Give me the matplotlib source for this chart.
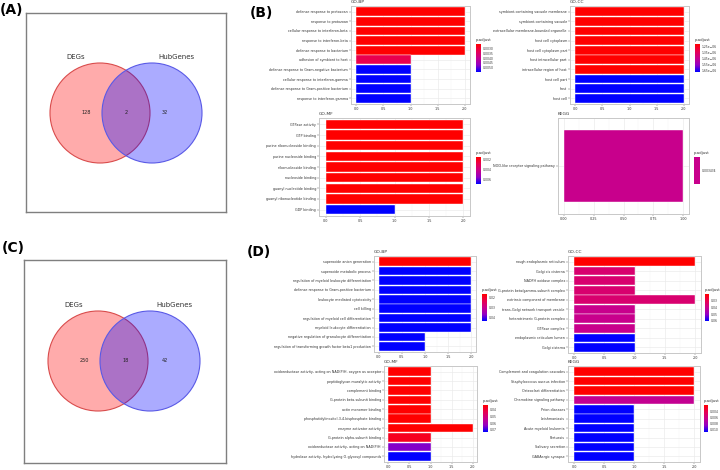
import numpy as np
import matplotlib.pyplot as plt
from matplotlib.colors import LinearSegmentedColormap, ListedColormap, Normalize
from matplotlib.cm import ScalarMappable
from matplotlib.patches import Circle

W, H = 720, 470

# ---- Venn data ----
venn_sets = ["DEGs", "HubGenes"]
venn_a_counts = [128, 2, 32]
venn_c_counts = [250, 18, 42]

# ---- (B) enrichment data ----
b_bp_terms = ["defense response to protozoan", "response to protozoan",
              "cellular response to interferon-beta", "response to interferon-beta",
              "defense response to bacterium", "adhesion of symbiont to host",
              "defense response to Gram-negative bacterium",
              "cellular response to interferon-gamma",
              "defense response to Gram-positive bacterium",
              "response to interferon-gamma"]
b_bp_count = [2, 2, 2, 2, 2, 1, 1, 1, 1, 1]
b_bp_padj = [0.0025, 0.0025, 0.0025, 0.0025, 0.0025, 0.00325,
             0.0055, 0.0055, 0.0055, 0.0055]
b_bp_cticks = [0.003, 0.0035, 0.004, 0.0045, 0.005]

b_cc_terms = ["symbiont-containing vacuole membrane", "symbiont-containing vacuole",
              "extracellular membrane-bounded organelle", "host cell cytoplasm",
              "host cell cytoplasm part", "host intracellular part",
              "intracellular region of host", "host cell part", "host", "host cell"]
b_cc_count = [2, 2, 2, 2, 2, 2, 2, 2, 2, 2]
b_cc_padj = [1.21e-06, 1.21e-06, 1.21e-06, 1.21e-06, 1.21e-06, 1.21e-06,
             1.21e-06, 1.67e-06, 1.67e-06, 1.67e-06]
b_cc_cticks = [1.25e-06, 1.35e-06, 1.45e-06, 1.55e-06, 1.65e-06]

b_mf_terms = ["GTPase activity", "GTP binding", "purine ribonucleoside binding",
              "purine nucleoside binding", "ribonucleoside binding",
              "nucleoside binding", "guanyl nucleotide binding",
              "guanyl ribonucleotide binding", "GDP binding"]
b_mf_count = [2, 2, 2, 2, 2, 2, 2, 2, 1]
b_mf_padj = [0.0015, 0.0015, 0.0015, 0.0015, 0.0015, 0.0015, 0.0015, 0.0015, 0.0068]
b_mf_cticks = [0.002, 0.004, 0.006]

b_kegg_terms = ["NOD-like receptor signaling pathway"]
b_kegg_count = [1]
b_kegg_padj = [0.003434]
b_kegg_cticks = [0.003434]

# ---- (D) enrichment data ----
d_bp_terms = ["superoxide anion generation", "superoxide metabolic process",
              "regulation of myeloid leukocyte differentiation",
              "defense response to Gram-positive bacterium",
              "leukocyte mediated cytotoxicity", "cell killing",
              "regulation of myeloid cell differentiation",
              "myeloid leukocyte differentiation",
              "negative regulation of granulocyte differentiation",
              "regulation of transforming growth factor beta1 production"]
d_bp_count = [2, 2, 2, 2, 2, 2, 2, 2, 1, 1]
d_bp_padj = [0.016, 0.044, 0.044, 0.044, 0.044, 0.044, 0.044, 0.044, 0.044, 0.044]
d_bp_cticks = [0.02, 0.03, 0.04]

d_cc_terms = ["rough endoplasmic reticulum", "Golgi cis cisterna",
              "NADPH oxidase complex", "G-protein beta/gamma-subunit complex",
              "extrinsic component of membrane",
              "trans-Golgi network transport vesicle",
              "heterotrimeric G-protein complex", "GTPase complex",
              "endoplasmic reticulum lumen", "Golgi cisterna"]
d_cc_count = [2, 1, 1, 1, 2, 1, 1, 1, 1, 1]
d_cc_padj = [0.020, 0.035, 0.035, 0.035, 0.035, 0.040, 0.040, 0.040, 0.060, 0.060]
d_cc_cticks = [0.03, 0.04, 0.05, 0.06]

d_mf_terms = ["oxidoreductase activity, acting on NAD(P)H, oxygen as acceptor",
              "peptidoglycan muralytic activity", "complement binding",
              "G-protein beta-subunit binding", "actin monomer binding",
              "phosphatidylinositol-3,4-bisphosphate binding",
              "enzyme activator activity", "G-protein alpha-subunit binding",
              "oxidoreductase activity, acting on NAD(P)H",
              "hydrolase activity, hydrolyzing O-glycosyl compounds"]
d_mf_count = [1, 1, 1, 1, 1, 1, 2, 1, 1, 1]
d_mf_padj = [0.033, 0.033, 0.033, 0.033, 0.033, 0.033, 0.033, 0.037, 0.064, 0.073]
d_mf_cticks = [0.04, 0.05, 0.06, 0.07]

d_kegg_terms = ["Complement and coagulation cascades",
                "Staphylococcus aureus infection", "Osteoclast differentiation",
                "Chemokine signaling pathway", "Prion diseases", "Leishmaniasis",
                "Acute myeloid leukemia", "Pertussis", "Salivary secretion",
                "GABAergic synapse"]
d_kegg_count = [2, 2, 2, 2, 1, 1, 1, 1, 1, 1]
d_kegg_padj = [0.0016, 0.0016, 0.0016, 0.0065, 0.0110, 0.0110, 0.0110, 0.0110,
               0.0110, 0.0110]
d_kegg_cticks = [0.004, 0.006, 0.008, 0.010]

cmap = LinearSegmentedColormap.from_list(
    "redblue", [(0, "#FF0000"), (0.25, "#E9004F"), (0.5, "#C8008C"),
                (0.75, "#9300C3"), (1, "#0000FF")])

fig = plt.figure(figsize=(W / 100, H / 100), dpi=100)
fig.patch.set_facecolor("white")


def frac(x0, y0, x1, y1):
    """pixel box (top-left origin) -> figure fraction rect"""
    return [x0 / W, 1 - y1 / H, (x1 - x0) / W, (y1 - y0) / H]


def venn(box, counts, lab_y, num_x):
    ax = fig.add_axes(frac(*box))
    w, h = box[2] - box[0], box[3] - box[1]
    ax.set_xlim(0, w)
    ax.set_ylim(h, 0)
    ax.set_xticks([])
    ax.set_yticks([])
    for sp in ax.spines.values():
        sp.set_color("#7F7F7F")
        sp.set_linewidth(1.0)
    cy = lab_y + 56
    ax.add_patch(Circle((74, cy), 50, facecolor=(1, 0, 0, 0.33),
                        edgecolor="#D94C4C", lw=0.8))
    ax.add_patch(Circle((126, cy), 50, facecolor=(0, 0, 1, 0.33),
                        edgecolor="#5A5AE6", lw=0.8))
    ax.text(50, lab_y, venn_sets[0], fontsize=5.0, ha="center", va="center",
            color="#333333")
    ax.text(150, lab_y, venn_sets[1], fontsize=5.0, ha="center", va="center",
            color="#333333")
    for x, c in zip(num_x, counts):
        ax.text(x, cy, str(c), fontsize=3.6, ha="center", va="center",
                color="#222222")


def bar_panel(box, title, terms, counts, padj, xticks, cbox, cticks, cfmt):
    ax = fig.add_axes(frac(*box))
    y = np.arange(len(terms))
    lo, hi = min(padj), max(padj)
    if hi > lo:
        norm = Normalize(lo, hi)
        cm = cmap
        colors = cmap(norm(padj))
    else:
        norm = Normalize(lo - 1e-6, hi + 1e-6)
        cm = ListedColormap([cmap(0.5)])
        colors = [cmap(0.5)] * len(terms)
    ax.barh(y, counts, height=0.9, color=colors, edgecolor="white",
            linewidth=0.3, zorder=3)
    xmax = max(xticks)
    ax.set_xlim(-0.05 * xmax, 1.05 * xmax)
    ax.set_ylim(len(terms) - 0.4, -0.6)
    ax.set_yticks(y)
    ax.set_yticklabels(terms)
    ax.set_xticks(xticks)
    ax.set_xticklabels([f"{t:.1f}" if xmax > 1 else f"{t:.2f}" for t in xticks])
    minor = (np.array(xticks[:-1]) + np.array(xticks[1:])) / 2
    ax.set_xticks(minor, minor=True)
    ax.tick_params(axis="x", which="minor", length=0)
    ax.grid(True, which="major", color="#EBEBEB", lw=0.5, zorder=0)
    ax.grid(True, which="minor", axis="x", color="#F4F4F4", lw=0.3, zorder=0)
    ax.tick_params(labelsize=2.4, length=1.2, width=0.3, pad=1,
                   colors="#555555", labelcolor="#333333")
    for sp in ax.spines.values():
        sp.set_color("#C8C8C8")
        sp.set_linewidth(0.7)
    ax.set_title(title, fontsize=3.2, loc="left", pad=2, color="#333333")

    cax = fig.add_axes(frac(*cbox))
    sm = ScalarMappable(norm=norm, cmap=cm)
    cb = fig.colorbar(sm, cax=cax, ticks=cticks, format=cfmt)
    cax.invert_yaxis()
    cb.outline.set_visible(False)
    cax.tick_params(labelsize=2.2, length=0, pad=1.2, labelcolor="#333333")
    fig.text(cbox[0] / W, 1 - (cbox[1] - 2) / H, "p.adjust", fontsize=2.8,
             ha="left", va="bottom", color="#333333")


# Venn diagrams
venn((26, 13, 226, 212), venn_a_counts, 44, [60, 100, 139])
venn((24, 260, 226, 463), venn_c_counts, 45, [60, 102, 141])

x2 = [0.0, 0.5, 1.0, 1.5, 2.0]
x1 = [0.0, 0.25, 0.5, 0.75, 1.0]

bar_panel((351, 6, 470, 104), "GO-BP", b_bp_terms, b_bp_count, b_bp_padj, x2,
          (476, 44, 481, 72), b_bp_cticks, "{x:.4f}")
bar_panel((570, 6, 689, 104), "GO-CC", b_cc_terms, b_cc_count, b_cc_padj, x2,
          (695, 44, 700, 72), b_cc_cticks, "{x:.2e}")
bar_panel((319, 118, 470, 216), "GO-MF", b_mf_terms, b_mf_count, b_mf_padj, x2,
          (476, 157, 481, 184), b_mf_cticks, "{x:.3f}")
bar_panel((558, 118, 689, 214), "KEGG", b_kegg_terms, b_kegg_count, b_kegg_padj,
          x1, (694, 157, 700, 184), b_kegg_cticks, "{x:.6f}")

bar_panel((374, 256, 476, 352), "GO-BP", d_bp_terms, d_bp_count, d_bp_padj, x2,
          (482, 294, 487, 321), d_bp_cticks, "{x:.2f}")
bar_panel((568, 256, 701, 353), "GO-CC", d_cc_terms, d_cc_count, d_cc_padj, x2,
          (705, 294, 709, 321), d_cc_cticks, "{x:.2f}")
bar_panel((384, 366, 477, 462), "GO-MF", d_mf_terms, d_mf_count, d_mf_padj, x2,
          (483, 405, 488, 432), d_mf_cticks, "{x:.2f}")
bar_panel((568, 366, 700, 462), "KEGG", d_kegg_terms, d_kegg_count, d_kegg_padj,
          x2, (704, 405, 708, 432), d_kegg_cticks, "{x:.3f}")

# panel labels
for lab, x, y in [("(A)", 0, 10), ("(B)", 250, 13), ("(C)", 2, 248),
                  ("(D)", 247, 252)]:
    fig.text(x / W, 1 - y / H, lab, fontsize=10, fontweight="bold",
             ha="left", va="center")

fig.savefig("out.png", dpi=100, facecolor="white")
